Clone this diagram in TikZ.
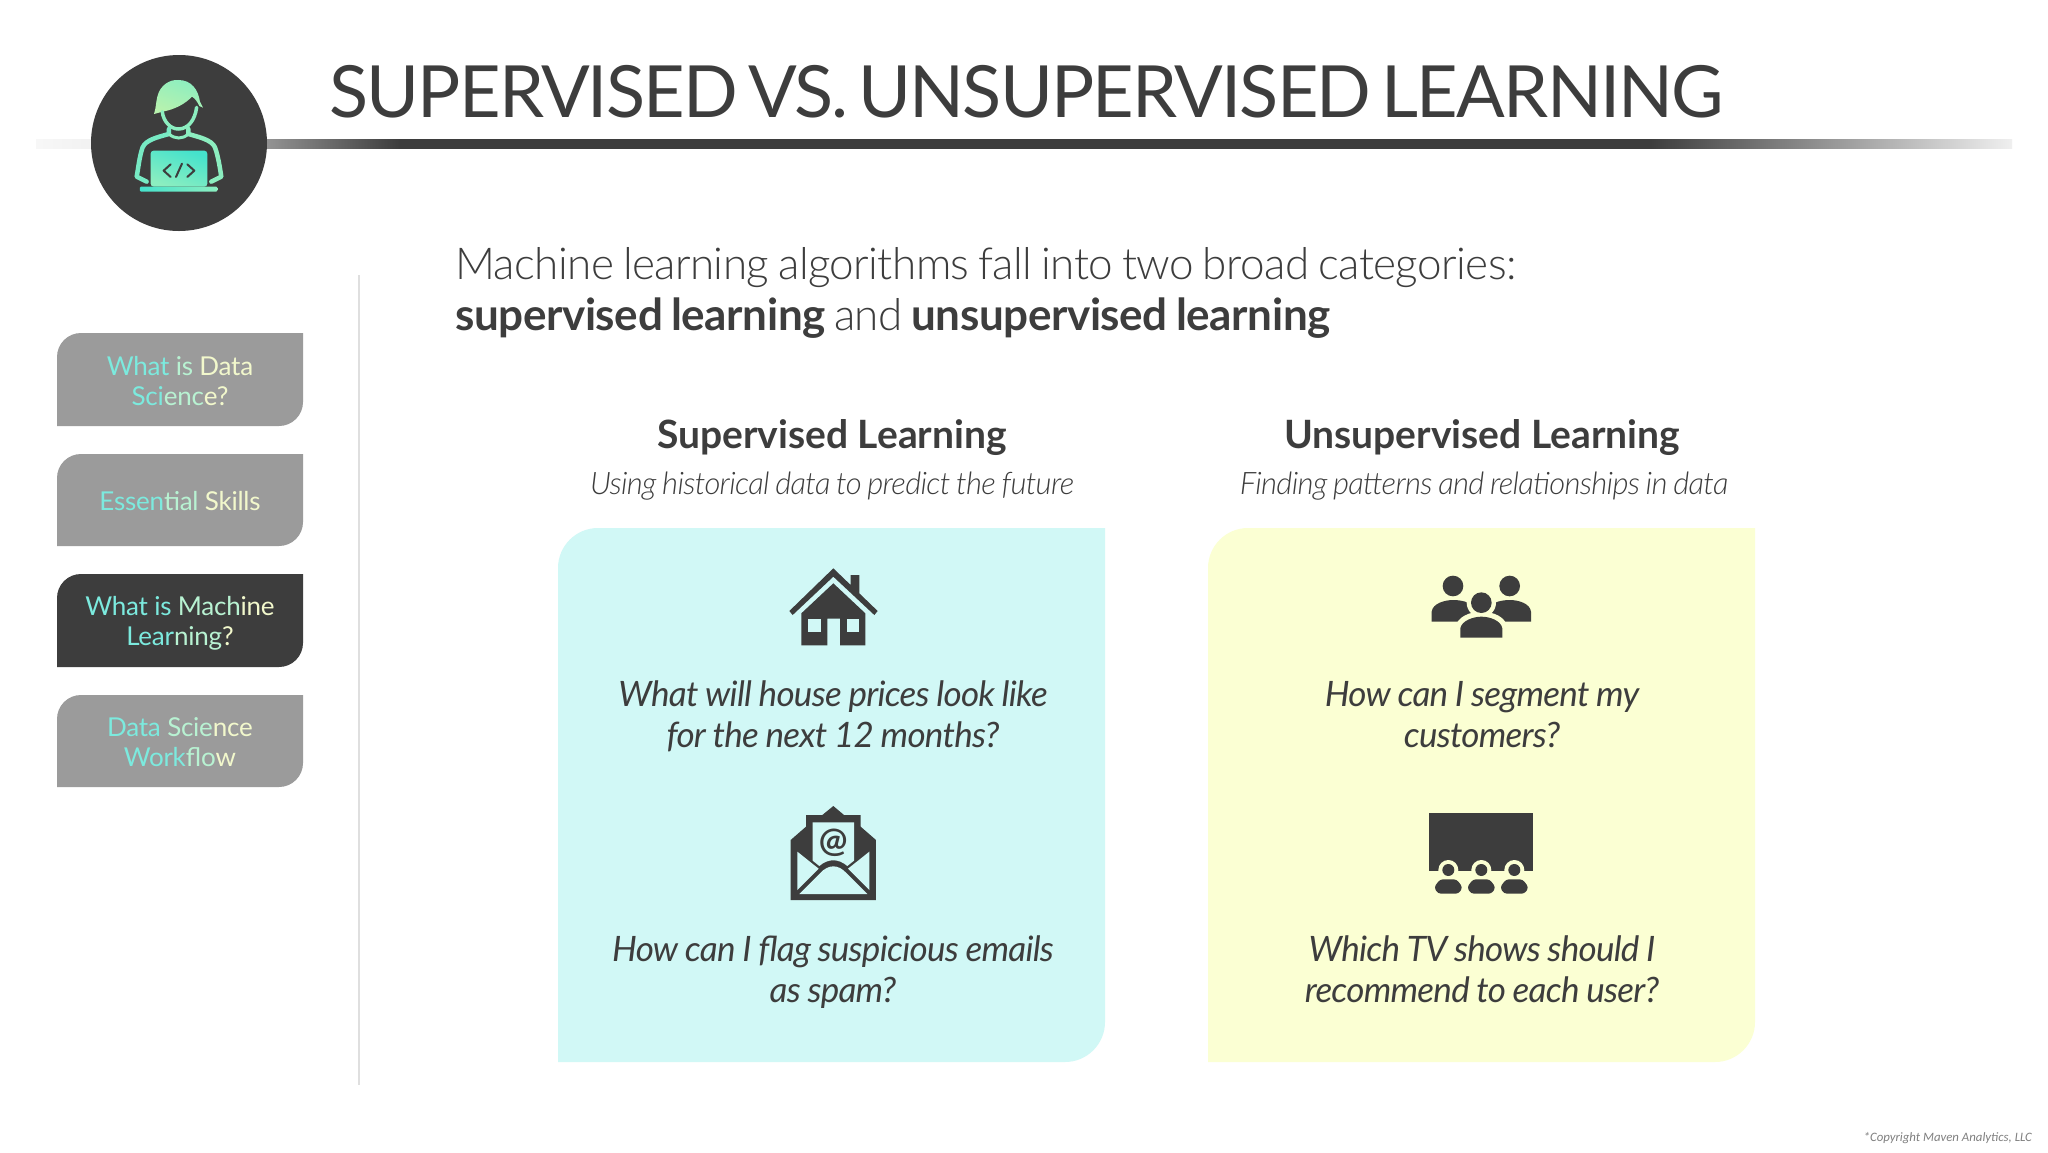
\documentclass[tikz,border=0pt]{standalone}
\usepackage{fontspec}
\setmainfont{Lato}
\newfontfamily\titlefont{Lato}[LetterSpace=-2.5,WordSpace=0.6]
\newfontfamily\introfont{Lato Light}[BoldFont={Lato Bold},BoldFeatures={LetterSpace=-0.9},LetterSpace=-1.35,WordSpace=0.8]
\newfontfamily\subfont{Lato Light}[ItalicFont={Lato Light Italic},LetterSpace=-2.2,WordSpace=0.8]
\newfontfamily\questfont{Lato}[LetterSpace=-2.1,WordSpace=0.9]
\newfontfamily\tabfont{Lato}[LetterSpace=-1]
\newfontfamily\noticefont{Carlito}
\definecolor{ink}{HTML}{3D3D3D}
\definecolor{tabgray}{HTML}{9B9B9B}
\definecolor{bluepanel}{HTML}{D1F8F6}
\definecolor{yellowpanel}{HTML}{FBFFD3}
\definecolor{mintA}{HTML}{7CEADE}
\definecolor{mintB}{HTML}{B8F2D2}
\definecolor{mintC}{HTML}{F2F8CC}
\definecolor{iconA}{HTML}{45E2CC}
\definecolor{iconB}{HTML}{8CEEC0}
\definecolor{iconC}{HTML}{B8F2AE}
\newcommand{\mA}[1]{\textcolor{mintA}{#1}}
\newcommand{\mB}[1]{\textcolor{mintB}{#1}}
\newcommand{\mC}[1]{\textcolor{mintC}{#1}}
\pgfdeclarehorizontalshading{rulefade}{100bp}{color(0bp)=(ink!4!white); color(25bp)=(ink!4!white); color(26.4bp)=(ink!7!white); color(30.8bp)=(ink!55!white); color(34.2bp)=(ink); color(65.8bp)=(ink); color(75bp)=(ink!8!white); color(100bp)=(ink!8!white)}
\tikzset{
  tabtext/.style={align=center,font=\tabfont\fontsize{26}{30}\selectfont},
  question/.style={align=center,text=ink,font=\questfont\fontsize{35}{41}\selectfont\itshape},
  heading/.style={text=ink,font=\fontsize{39}{45}\selectfont\bfseries},
  subheading/.style={text=ink,font=\subfont\fontsize{31}{36}\selectfont\itshape},
}
% tab / panel shape: top left and bottom right corners rounded
\newcommand{\leafshape}[6]{\fill[#1] (#2,#5) [rounded corners=#6pt] -- (#2,#3) [sharp corners] -- (#4,#3) [rounded corners=#6pt] -- (#4,#5) [sharp corners] -- cycle;}
\begin{document}
\begin{tikzpicture}[x=1pt,y=-1pt]
\useasboundingbox (0,0) rectangle (2048,1152);
\fill[white] (0,0) rectangle (2048,1152);
% title rule and badge
\shade[shading=rulefade] (36,139.5) rectangle (2012,148.5);
\fill[ink] (179,143) circle[radius=88];
\node[anchor=base west,inner sep=0pt,text=ink,font=\titlefont\fontsize{72}{72}\selectfont] (title) at (329,117) {SUPERVISED VS. UNSUPERVISED LEARNING};
% coder icon
\begin{scope}[shift={(0,30)},x=0.3333pt,y=-0.3333pt]
\shade[left color=iconB,right color=iconC,shading angle=-20] (462,252) .. controls (468,235) and (468,215) .. (472,200) .. controls (480,165) and (510,148) .. (535,150) .. controls (575,150) and (595,180) .. (600,215) -- (609,233) -- (598,228) .. controls (592,215) and (585,205) .. (576,200) .. controls (555,222) and (525,238) .. (488,245) -- cycle;
\draw[iconB,line width=3.5pt,line cap=round] (487,245) .. controls (490,275) and (512,297) .. (535,297) .. controls (565,297) and (585,270) .. (590,232);
\draw[iconB!70!iconA,line width=4.5pt,line cap=round,line join=round] (507,297) -- (507,312) .. controls (470,322) and (438,330) .. (428,352) .. controls (418,380) and (415,415) .. (410,440) -- (440,455);
\draw[iconB,line width=4.5pt,line cap=round,line join=round] (565,297) -- (565,312) .. controls (600,322) and (635,330) .. (645,352) .. controls (655,380) and (660,415) .. (664,440) -- (634,455);
\draw[iconB,line width=3pt] (507,312) .. controls (525,328) and (548,328) .. (565,312);
\shade[left color=iconA,right color=iconB,shading angle=-20,rounded corners=3pt] (452,470) -- (452,362) -- (622,362) -- (622,470) -- cycle;
\shade[left color=iconA,right color=iconB,rounded corners=1pt] (420,470) rectangle (652,485);
\draw[ink,line width=2pt,line cap=round,line join=round] (512,403) -- (491,422) -- (512,441);
\draw[ink,line width=2pt,line cap=round,line join=round] (562,403) -- (583,422) -- (562,441);
\draw[ink,line width=2pt,line cap=round] (528,441) -- (546,401);
\end{scope}
% left tabs
\draw[gray!25,line width=2pt] (359,275) -- (359,1085);
\leafshape{tabgray}{57}{333}{303}{426}{24}
\leafshape{tabgray}{57}{454}{303}{546}{24}
\leafshape{ink}{57}{574}{303}{667}{24}
\leafshape{tabgray}{57}{695}{303}{787}{24}
\node[tabtext] (tab1) at (180,381) {\mA{What }\mB{is }\mC{Data}\\\mA{Sci}\mB{enc}\mC{e?}};
\node[tabtext] (tab2) at (180,501) {\mA{Essen}\mB{tial }\mC{Skills}};
\node[tabtext] (tab3) at (180,623) {\mA{What }\mA{is }\mB{Mach}\mC{ine}\\\mA{Lear}\mB{ning}\mC{?}};
\node[tabtext] (tab4) at (180,742) {\mA{Data }\mB{Scie}\mC{nce}\\\mA{Work}\mB{flo}\mC{w}};
% intro
\node[anchor=base west,inner sep=0pt,text=ink,font=\introfont\fontsize{44}{44}\selectfont] (introa) at (455,279) {Machine learning algorithms fall into two broad categories:};
\node[anchor=base west,inner sep=0pt,text=ink,font=\introfont\fontsize{44}{44}\selectfont] (introb) at (455,330) {\textbf{supervised learning} and \textbf{unsupervised learning}};
% panels
\leafshape{bluepanel}{558}{528}{1105}{1062}{40}
\leafshape{yellowpanel}{1208}{528}{1755}{1062}{40}
\node[heading,anchor=base] (suphead) at (832,448) {Supervised Learning};
\node[subheading,anchor=base] (supsub) at (832,494) {Using historical data to predict the future};
\node[heading,anchor=base] (unshead) at (1482,448) {Unsupervised Learning};
\node[subheading,anchor=base] (unssub) at (1484,494) {Finding patterns and relationships in data};
\node[question] (qone) at (833,716) {What will house prices look like\\for the next 12 months?};
\node[question] (qtwo) at (833,972) {How can I flag suspicious emails\\as spam?};
\node[question] (qthree) at (1482,715) {How can I segment my\\customers?};
\node[question] (qfour) at (1482,969) {Which TV shows should I\\recommend to each user?};
% house
\begin{scope}[shift={(760,550)},x=0.3333pt,y=-0.3333pt]
\fill[ink] (220,55) -- (272,105) -- (272,75) -- (298,75) -- (298,130) -- (353,183) -- (343,195) -- (220,80) -- (98,195) -- (88,183) -- cycle;
\fill[ink] (220,100) -- (316,190) -- (316,286) -- (240,286) -- (240,206) -- (202,206) -- (202,286) -- (124,286) -- (124,190) -- cycle;
\fill[bluepanel] (144,206) rectangle (182,245);
\fill[bluepanel] (260,206) rectangle (298,245);
\end{scope}
% envelope
\begin{scope}[shift={(770,790)},x=0.3333pt,y=-0.3333pt]
\fill[ink] (190,48) -- (222,75) -- (272,75) -- (272,110) -- (318,150) -- (318,330) -- (62,330) -- (62,150) -- (108,110) -- (108,75) -- (157,75) -- cycle;
\fill[bluepanel] (128,97) -- (252,97) -- (252,212) -- (232,228) .. controls (205,205) and (175,205) .. (148,228) -- (128,212) -- cycle;
\fill[bluepanel] (82,185) -- (146,236) -- (82,300) -- cycle;
\fill[bluepanel] (298,185) -- (234,236) -- (298,300) -- cycle;
\fill[bluepanel] (88,312) -- (150,250) .. controls (175,222) and (205,222) .. (230,250) -- (292,312) -- cycle;
\node[text=ink,inner sep=0pt,font=\fontsize{34}{34}\selectfont\bfseries] (atsign) at (190,158) {@};
\end{scope}
% people
\begin{scope}[shift={(1420,560)},x=0.3333pt,y=-0.3333pt]
\fill[ink] (99,78) circle[radius=31];
\fill[ink] (269,78) circle[radius=31];
\fill[ink] (35,185) -- (35,155) .. controls (38,130) and (75,120) .. (99,120) .. controls (130,120) and (165,130) .. (165,155) -- (165,185) -- cycle;
\fill[ink] (203,185) -- (203,155) .. controls (203,130) and (240,120) .. (269,120) .. controls (295,120) and (330,130) .. (333,155) -- (333,185) -- cycle;
\fill[yellowpanel] (184,128) circle[radius=44];
\fill[yellowpanel] (105,250) -- (105,205) .. controls (110,170) and (150,155) .. (184,155) .. controls (220,155) and (258,170) .. (263,205) -- (263,250) -- cycle;
\fill[ink] (184,128) circle[radius=31];
\fill[ink] (121,233) -- (121,205) .. controls (125,182) and (160,170) .. (184,170) .. controls (210,170) and (243,182) .. (247,205) -- (247,233) -- cycle;
\end{scope}
% audience
\begin{scope}[shift={(1410,800)},x=0.3333pt,y=-0.3333pt]
\fill[ink] (58,40) rectangle (370,213);
\foreach \cx in {115,214,313} {
  \fill[yellowpanel] (\cx,210) circle[radius=30];
  \fill[ink] (\cx,210) circle[radius=18];
  \fill[ink,rounded corners=3pt] (\cx-43,262) -- (\cx-25,238) -- (\cx+25,238) -- (\cx+43,262) -- (\cx+31,281) -- (\cx-31,281) -- cycle;
}
\end{scope}
\node[anchor=base east,inner sep=0pt,text=gray,font=\noticefont\fontsize{12.8}{13}\selectfont\itshape] (notice) at (2032,1141) {*Copyright Maven Analytics, LLC};
\end{tikzpicture}
\end{document}
